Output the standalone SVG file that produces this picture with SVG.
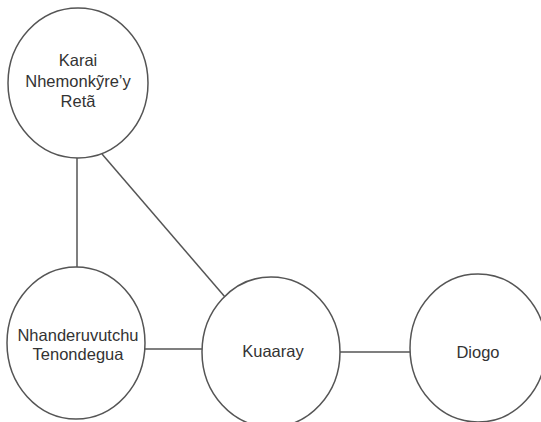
<svg xmlns="http://www.w3.org/2000/svg" width="541" height="422" viewBox="0 0 541 422">
<style>
.n{fill:#fff;stroke:#555;stroke-width:1.5}
.e{stroke:#555;stroke-width:1.5;fill:none}
text{font-family:"Liberation Sans",Arial,sans-serif;font-size:16.5px;fill:#333;text-anchor:middle}
</style>
<rect width="541" height="422" fill="#fff"/>
<g id="edges">
<line class="e" x1="77" y1="158" x2="77" y2="267"/>
<line class="e" x1="102" y1="154" x2="225" y2="297"/>
<line class="e" x1="145" y1="349" x2="203" y2="349"/>
<line class="e" x1="340" y1="352" x2="410" y2="352"/>
</g>
<g id="karai">
<ellipse class="n" cx="78" cy="83" rx="70" ry="75"/>
<text x="78" y="66">Karai</text>
<text x="78" y="87">Nhemonkỹre’y</text>
<text x="78" y="107">Retã</text>
</g>
<g id="nhanderuvutchu">
<ellipse class="n" cx="76" cy="343" rx="69" ry="76"/>
<text x="78" y="341">Nhanderuvutchu</text>
<text x="78" y="360">Tenondegua</text>
</g>
<g id="kuaaray">
<ellipse class="n" cx="271" cy="352" rx="69" ry="75"/>
<text x="273" y="357">Kuaaray</text>
</g>
<g id="diogo">
<ellipse class="n" cx="478" cy="348" rx="68" ry="74"/>
<text x="478" y="358">Diogo</text>
</g>
</svg>
